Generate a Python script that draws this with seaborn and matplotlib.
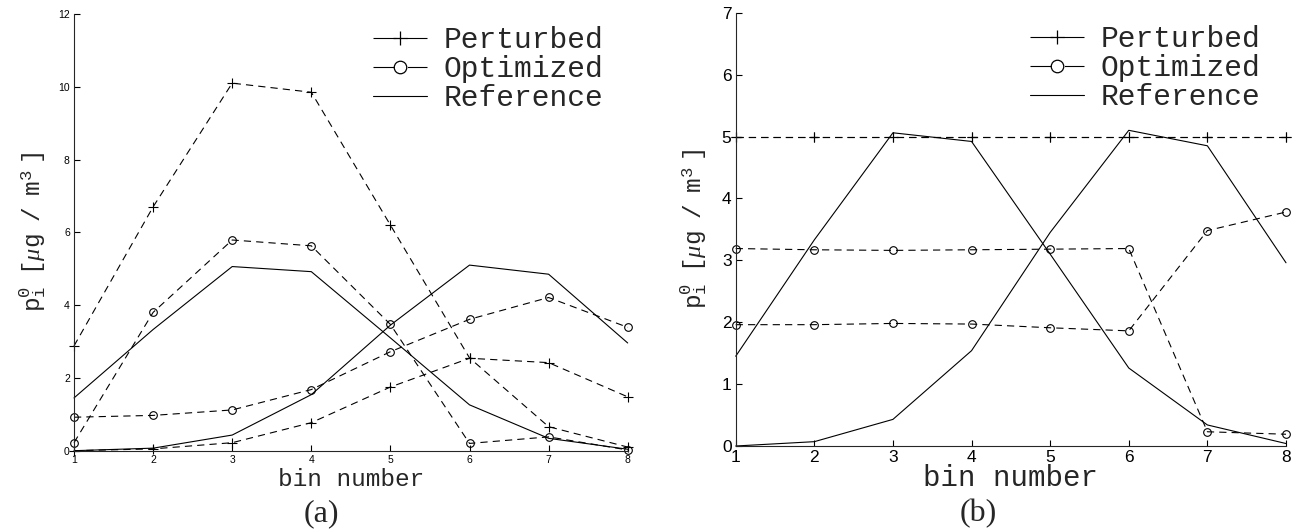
import numpy as np
import pandas as pd
import matplotlib
matplotlib.use("Agg")
import matplotlib.pyplot as plt
from matplotlib.lines import Line2D
import seaborn as sns

# ---------------- data ----------------
bins = [1, 2, 3, 4, 5, 6, 7, 8]

# panel (a)
a_perturbed_1 = [2.88, 6.70, 10.10, 9.85, 6.20, 2.55, 0.66, 0.10]
a_perturbed_2 = [0.00, 0.05, 0.22, 0.77, 1.75, 2.54, 2.42, 1.48]
a_optimized_1 = [0.22, 3.80, 5.79, 5.63, 3.47, 0.20, 0.38, 0.02]
a_optimized_2 = [0.92, 0.97, 1.12, 1.68, 2.72, 3.61, 4.21, 3.39]

# panel (b)
b_perturbed_1 = [5.0, 5.0, 5.0, 5.0, 5.0, 5.0, 5.0, 5.0]
b_perturbed_2 = [5.0, 5.0, 5.0, 5.0, 5.0, 5.0, 5.0, 5.0]
b_optimized_1 = [3.19, 3.17, 3.16, 3.17, 3.18, 3.19, 0.23, 0.19]
b_optimized_2 = [1.96, 1.96, 1.98, 1.97, 1.91, 1.86, 3.48, 3.78]

# reference distributions (same in both panels)
reference_1 = [1.45, 3.33, 5.06, 4.92, 3.10, 1.26, 0.34, 0.04]
reference_2 = [0.00, 0.07, 0.43, 1.54, 3.45, 5.10, 4.85, 2.96]

legend_labels = ["Perturbed", "Optimized", "Reference"]
a_yticks = [0, 2, 4, 6, 8, 10, 12]
b_yticks = [0, 1, 2, 3, 4, 5, 6, 7]
xlabel = "bin number"
ylabel = (r"$\mathrm{p}_{\mathrm{i}}^{\mathrm{0}}\ \ \mathrm{[}\mu\mathrm{g\ \ /\ \ m}"
          r"^{\mathrm{3}}\ \mathrm{]}$")

# ---------------- style ----------------
sns.set_style("ticks")
plt.rcParams["font.family"] = ["Liberation Sans", "DejaVu Sans"]
plt.rcParams["mathtext.fontset"] = "custom"
plt.rcParams["mathtext.rm"] = "Liberation Mono"
plt.rcParams["mathtext.tt"] = "Liberation Mono"
plt.rcParams["mathtext.it"] = "Liberation Serif:italic"
plt.rcParams["axes.linewidth"] = 0.8

W, H = 1302, 530
fig = plt.figure(figsize=(W / 100, H / 100), dpi=100)
fig.patch.set_facecolor("white")

def px_axes(l, r, b, t):
    return fig.add_axes([l / W, 1 - b / H, (r - l) / W, (b - t) / H])

axA = px_axes(74, 627.7, 450.7, 14)
axB = px_axes(735.7, 1286, 446, 12.7)

DASH = (0, (6.5, 4.6))
LW = 0.8

def draw(ax, y, kind, ms_plus, ms_circ):
    if kind == "Perturbed":
        sns.lineplot(x=bins, y=y, ax=ax, color="k", lw=LW, linestyle=DASH,
                     marker="+", markersize=ms_plus, markeredgewidth=0.8,
                     markeredgecolor="k", errorbar=None, clip_on=False)
    elif kind == "Optimized":
        sns.lineplot(x=bins, y=y, ax=ax, color="k", lw=LW, linestyle=DASH,
                     marker="o", markersize=ms_circ, markeredgewidth=0.8,
                     markeredgecolor="k", markerfacecolor="none",
                     errorbar=None, clip_on=False)
    else:
        sns.lineplot(x=bins, y=y, ax=ax, color="k", lw=LW, linestyle="-",
                     errorbar=None, clip_on=False)

for y, k in [(reference_1, "Reference"), (reference_2, "Reference"),
             (a_perturbed_1, "Perturbed"), (a_perturbed_2, "Perturbed"),
             (a_optimized_1, "Optimized"), (a_optimized_2, "Optimized")]:
    draw(axA, y, k, 7, 5.5)

for y, k in [(reference_1, "Reference"), (reference_2, "Reference"),
             (b_perturbed_1, "Perturbed"), (b_perturbed_2, "Perturbed"),
             (b_optimized_1, "Optimized"), (b_optimized_2, "Optimized")]:
    draw(axB, y, k, 7, 5.5)

def style_axes(ax, yticks, ymax, tick_fs, xl_fs, yl_fs, xl_y, yl_x):
    ax.set_xlim(1, 8)
    ax.set_ylim(0, ymax)
    ax.set_xticks(bins)
    ax.set_yticks(yticks)
    ax.tick_params(direction="in", length=4, width=0.8, labelsize=tick_fs,
                   pad=3, colors="k")
    for s in ["top", "right"]:
        ax.spines[s].set_visible(False)
    ax.set_xlabel(xlabel, fontsize=xl_fs, family="Liberation Mono", va="center")
    ax.xaxis.set_label_coords(0.5, xl_y)
    ax.set_ylabel(ylabel, fontsize=yl_fs, va="center")
    ax.yaxis.set_label_coords(yl_x, 0.5)

style_axes(axA, a_yticks, 12, 7.5, 17.6, 17.6, -0.065, -0.075)
style_axes(axB, b_yticks, 7, 12.5, 21, 17.6, -0.074, -0.077)

def make_legend(ax, x_px, top_px):
    h_pert = Line2D([], [], color="k", lw=LW, linestyle=(0, (20.6, 9.4)),
                    marker="+", markersize=10, markeredgewidth=0.9)
    h_opt = Line2D([], [], color="k", lw=LW, linestyle=(0, (19, 12)),
                   marker="o", markersize=9, markeredgewidth=0.9,
                   markerfacecolor="none")
    h_ref = Line2D([], [], color="k", lw=LW, linestyle="-")
    ax.legend([h_pert, h_opt, h_ref], legend_labels, loc="upper left",
              bbox_to_anchor=(x_px / W, 1 - top_px / H),
              bbox_transform=fig.transFigure, frameon=False,
              prop={"family": "Liberation Mono", "size": 21.3},
              handlelength=1.82, handletextpad=0.57, labelspacing=0.04,
              borderpad=0, borderaxespad=0, numpoints=1)

make_legend(axA, 373, 26)
make_legend(axB, 1030, 25)

fig.text(321 / W, 1 - 514 / H, "(a)", family="Liberation Serif", fontsize=23,
         ha="center", va="center")
fig.text(978 / W, 1 - 514 / H, "(b)", family="Liberation Serif", fontsize=23,
         ha="center", va="center")

fig.savefig("out.png", dpi=100, facecolor="white")
